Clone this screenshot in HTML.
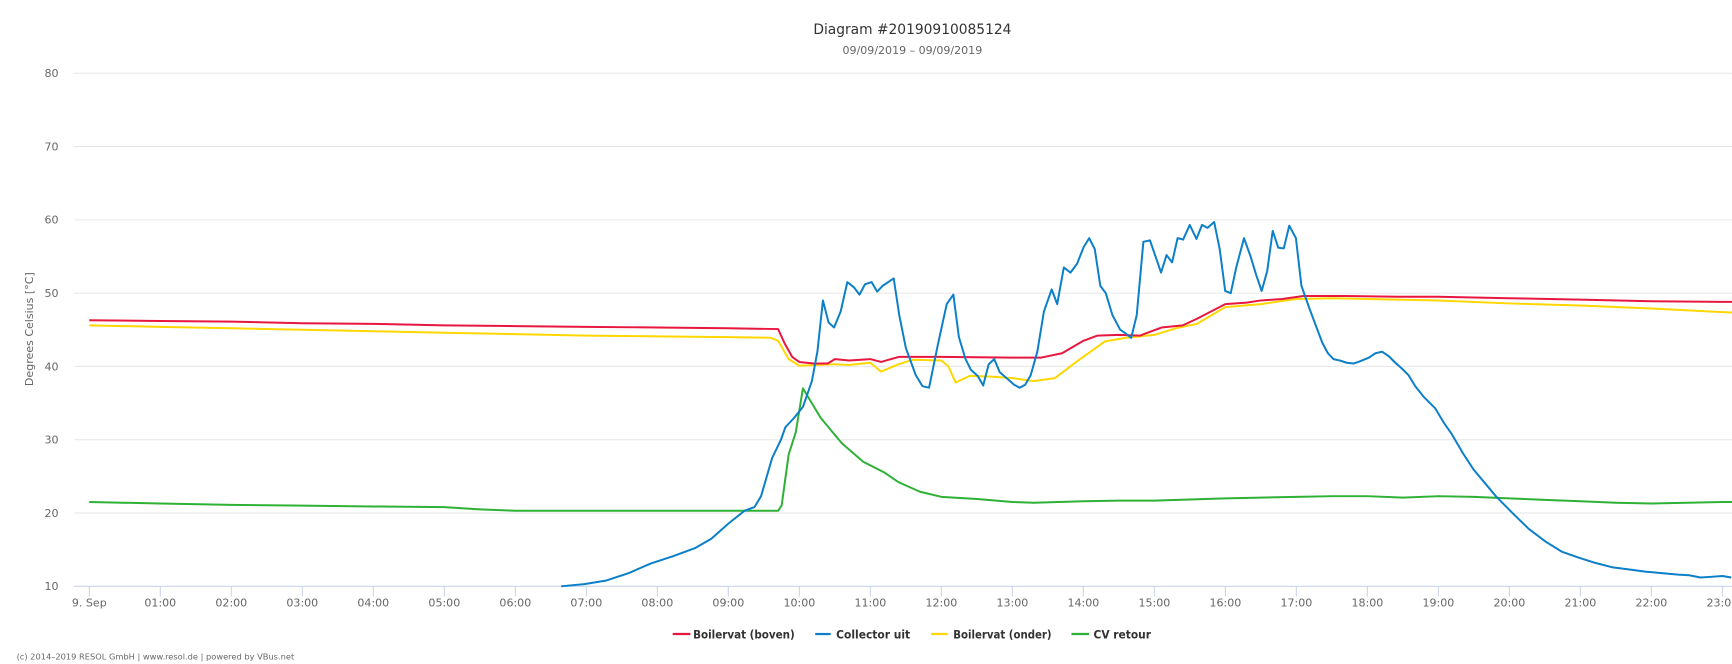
<!DOCTYPE html>
<html><head><meta charset="utf-8"><style>
html,body{margin:0;padding:0;background:#fff;width:1732px;height:664px;overflow:hidden}
svg{display:block}
text{font-family:"DejaVu Sans","Liberation Sans",sans-serif}
</style></head><body>
<svg id="s" width="1732" height="664" viewBox="0 0 1732 664" xmlns="http://www.w3.org/2000/svg">
<g transform="scale(1.10459)">
<text x="826" y="31" text-anchor="middle" font-size="12.5" fill="#333">Diagram #20190910085124</text>
<text x="826" y="49" text-anchor="middle" font-size="10" fill="#666">09/09/2019 – 09/09/2019</text>
<g id="grid" stroke="#e6e6e6" stroke-width="0.9"></g>
<g id="ylab" font-size="10" fill="#666" text-anchor="end"></g>
<text transform="translate(30,298) rotate(-90)" text-anchor="middle" font-size="10" fill="#666">Degrees Celsius [°C]</text>
<line x1="67" y1="530.8" x2="1568" y2="530.8" stroke="#ccd6eb" stroke-width="1"/>
<g id="xt" stroke="#ccd6eb" stroke-width="1"></g>
<g id="xl" font-size="10" fill="#666" text-anchor="middle"></g>
<g id="series" fill="none" stroke-width="1.8" stroke-linejoin="round"></g>
<g font-size="10.5" font-weight="bold" fill="#333">
<line x1="609" y1="574" x2="625" y2="574" stroke="#e8173f" stroke-width="2"/>
<text x="627.5" y="578" textLength="92" lengthAdjust="spacingAndGlyphs">Boilervat (boven)</text>
<line x1="738" y1="574" x2="752" y2="574" stroke="#0b7fc9" stroke-width="2"/>
<text x="757" y="578" textLength="67" lengthAdjust="spacingAndGlyphs">Collector uit</text>
<line x1="843" y1="574" x2="858" y2="574" stroke="#ffd700" stroke-width="2"/>
<text x="863" y="578" textLength="89" lengthAdjust="spacingAndGlyphs">Boilervat (onder)</text>
<line x1="970" y1="574" x2="986" y2="574" stroke="#2eb135" stroke-width="2"/>
<text x="990" y="578" textLength="52" lengthAdjust="spacingAndGlyphs">CV retour</text>
</g>
<text x="15" y="597" font-size="7.5" fill="#666">(c) 2014–2019 RESOL GmbH | www.resol.de | powered by VBus.net</text>
</g>
</svg>
<script>
var NS="http://www.w3.org/2000/svg";
function el(p,n,a,t){var e=document.createElementNS(NS,n);for(var k in a)e.setAttribute(k,a[k]);if(t)e.textContent=t;document.getElementById(p).appendChild(e);}
function Y(v){return 530.8-6.636*(v-10);}
function X(h){return 80.85+64.28*h;}
for(var v=20;v<=80;v+=10){el("grid","line",{x1:67,x2:1568,y1:Y(v),y2:Y(v)});}
for(var v=10;v<=80;v+=10){el("ylab","text",{x:53,y:Y(v)+3.5},""+v);}
var labs=["9. Sep"];for(var h=1;h<=23;h++)labs.push((h<10?"0":"")+h+":00");
for(var h=0;h<=23;h++){el("xt","line",{x1:X(h),x2:X(h),y1:530.8,y2:540});el("xl","text",{x:X(h),y:549},labs[h]);}
function hp(a){var s=[];for(var i=0;i<a.length;i+=2)s.push(X(a[i]).toFixed(1)+","+Y(a[i+1]).toFixed(1));return s.join(" ");}
function pp(a){var s=[];for(var i=0;i<a.length;i+=2)s.push(((a[i]-82)*1.0003+80.85).toFixed(1)+","+Y(a[i+1]).toFixed(1));return s.join(" ");}
var red=[0,46.3,1,46.2,2,46.1,3,45.9,4,45.8,5,45.6,6,45.5,7,45.4,8,45.3,9,45.2,9.7,45.1,9.8,43,9.9,41.3,10,40.6,10.2,40.4,10.4,40.4,10.5,41,10.7,40.8,11,41,11.15,40.6,11.4,41.3,12,41.3,13,41.2,13.4,41.2,13.7,41.8,14,43.5,14.2,44.2,14.5,44.3,14.8,44.2,15.1,45.3,15.4,45.6,15.6,46.5,16,48.5,16.3,48.7,16.5,49,16.8,49.2,17.1,49.6,17.7,49.6,18.5,49.5,19,49.5,20,49.3,21,49.1,22,48.9,23,48.8,23.3,48.8];
var yel=[0,45.6,1,45.4,2,45.2,3,45,4,44.8,5,44.6,6,44.4,7,44.2,8,44.1,9,44,9.6,43.9,9.7,43.5,9.85,41,10,40.1,10.5,40.3,10.7,40.2,11.0,40.5,11.15,39.3,11.4,40.3,11.6,40.9,12,40.8,12.1,40,12.2,37.8,12.4,38.7,12.7,38.6,13,38.4,13.3,38,13.6,38.4,13.9,40.6,14.3,43.4,14.6,43.9,15,44.3,15.3,45.2,15.6,45.8,16,48.1,16.5,48.5,17,49.2,17.5,49.3,18,49.2,19,49.0,20,48.6,21,48.3,22,47.9,23,47.4,23.3,47.3];
var grn=[0,21.5,1,21.3,2,21.1,3,21,4,20.9,5,20.8,5.5,20.5,6,20.3,7,20.3,8,20.3,9,20.3,9.7,20.3,9.75,21,9.85,28,9.95,31,10.05,37,10.3,33,10.6,29.5,10.9,27,11.2,25.5,11.4,24.2,11.7,22.9,12,22.2,12.5,21.9,13,21.5,13.3,21.4,14,21.6,14.5,21.7,15,21.7,16,22,16.5,22.1,17,22.2,17.5,22.3,18,22.3,18.5,22.1,19,22.3,19.5,22.2,20,22.0,20.5,21.8,21,21.6,21.5,21.4,22,21.3,23,21.5,23.3,21.5];
var blu=[509,10,530,10.3,550,10.8,570,11.8,590,13.1,610,14.1,630,15.2,645,16.5,660,18.5,675,20.3,684,20.8,690,22.3,700,27.5,708,30,712,31.7,720,33,728,34.5,736,38,741,42,746,49,751,46,756,45.3,762,47.5,768,51.5,774,50.8,779,49.8,784,51.2,790,51.5,795,50.2,800,51,810,52,815,47,821,42.5,830,38.8,836,37.3,842,37.1,850,43,858,48.5,864,49.8,869,44,875,41,880,39.5,886,38.7,891,37.4,896,40.3,901,41,906,39.2,913,38.3,919,37.5,924,37.1,929,37.5,934,38.8,940,42,946,47.5,953,50.5,958,48.5,964,53.5,970,52.8,976,54,982,56.3,987,57.5,992,56,997,51,1002,50,1008,47,1015,45,1020,44.5,1025,43.9,1030,47,1036,57,1042,57.2,1047,55,1052,52.8,1057,55.2,1062,54.2,1067,57.5,1072,57.3,1078,59.3,1084,57.4,1089,59.3,1094,58.9,1100,59.7,1105,56,1110,50.3,1115,50,1120,53.5,1127,57.5,1133,55,1138,52.5,1143,50.3,1148,53,1153,58.5,1158,56.2,1163,56.1,1168,59.2,1174,57.5,1179,51,1186,48,1192,45.6,1198,43.2,1203,41.8,1208,41,1214,40.8,1220,40.5,1226,40.4,1232,40.7,1240,41.2,1246,41.8,1252,42,1258,41.4,1264,40.5,1270,39.7,1276,38.8,1282,37.3,1290,35.8,1300,34.3,1308,32.3,1315,30.8,1325,28.2,1335,25.9,1345,24.1,1355,22.3,1370,20,1385,17.8,1400,16.1,1415,14.7,1430,13.9,1445,13.2,1460,12.6,1475,12.3,1490,12.0,1505,11.8,1520,11.6,1530,11.5,1540,11.2,1550,11.3,1560,11.4,1568,11.2];
el("series","polyline",{points:hp(grn),stroke:"#2eb135"});
el("series","polyline",{points:hp(yel),stroke:"#ffd700"});
el("series","polyline",{points:hp(red),stroke:"#e8173f"});
el("series","polyline",{points:pp(blu),stroke:"#0b7fc9"});
</script>
</body></html>
